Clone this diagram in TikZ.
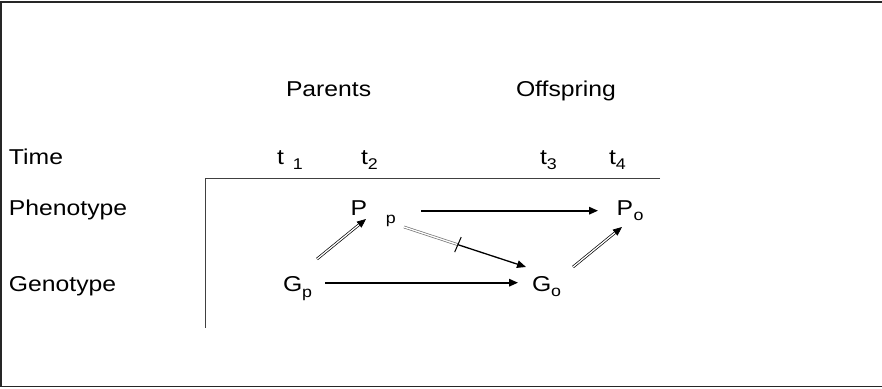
\documentclass[tikz,border=0pt]{standalone}
\usepackage{fontspec}
\setmainfont{Liberation Sans}
\usetikzlibrary{arrows.meta,calc}
% text is set slightly widened, as in the original slide
\newcommand{\wide}[1]{\scalebox{1.15}[1]{#1}}
\newcommand{\bigtxt}{\fontsize{21.5}{25}\selectfont}
\newcommand{\smalltxt}{\fontsize{15.5}{18}\selectfont}
% symbol with a lowered index: #1 symbol, #2 gap, #3 drop, #4 index
\newcommand{\subl}[4]{\wide{\bigtxt #1}\hspace{#2}\raisebox{-#3}{\wide{\smalltxt #4}}}
\begin{document}
\begin{tikzpicture}[x=1pt,y=-1pt,
  txt/.style={inner sep=0pt, outer sep=0pt, anchor=base west, font=\bigtxt},
  tip/.style={-{Triangle[length=9pt,width=7.5pt]}},
  solidarr/.style={tip, line width=1.7pt},
  dblarr/.style={tip, double, double distance=1.3pt, line width=0.7pt},
  dblgray/.style={double, double distance=1.3pt, line width=0.7pt, draw=black!55},
  axisline/.style={line width=0.9pt, black!75}]

\useasboundingbox (0,0) rectangle (882,388);
% outer frame (open on the right)
\draw[line width=1.3pt, black!85] (882,2) -- (1,2) -- (1,386.5) -- (882,386.5);

% row and column labels
\node[txt] (time) at (9,164) {\wide{Time}};
\node[txt] (pheno) at (9,215) {\wide{Phenotype}};
\node[txt] (geno) at (9,291) {\wide{Genotype}};
\node[txt] (parents) at (286,96) {\wide{Parents}};
\node[txt] (offspring) at (516,96) {\wide{Offspring}};

% time points
\node[txt] (t1) at (277,164) {\subl{t}{9pt}{5.5pt}{1}};
\node[txt] (t2) at (361,164) {\subl{t}{0pt}{5.5pt}{2}};
\node[txt] (t3) at (540,164) {\subl{t}{0pt}{5.5pt}{3}};
\node[txt] (t4) at (609,164) {\subl{t}{0pt}{5.5pt}{4}};

% axes
\coordinate (corner) at (205,178);
\draw[axisline] (660,178) -- (corner) -- (205,328);

% variables
\node[txt] (Pp) at (350.5,215) {\subl{P}{19pt}{8pt}{p}};
\node[txt] (Po) at (616.5,215) {\subl{P}{0.5pt}{5pt}{o}};
\node[txt] (Gp) at (283,291.5) {\subl{G}{0pt}{6pt}{p}};
\node[txt] (Go) at (532,291.5) {\subl{G}{0pt}{5pt}{o}};

% connectors
\draw[solidarr] ([shift={(42,-8.8)}]Gp.base west) -- ([shift={(-14,-8.8)}]Go.base west);
\draw[solidarr] ([shift={(70.5,-4.3)}]Pp.base west) -- ([shift={(-18.5,-4.3)}]Po.base west);
\draw[dblarr] ([shift={(34,-32.5)}]Gp.base west) -- ([shift={(15.5,4)}]Pp.base west);
\draw[dblarr] ([shift={(41,-24.5)}]Go.base west) -- ([shift={(5.5,12)}]Po.base west);

% blocked path from parental phenotype to offspring genotype
\coordinate (ps) at ([shift={(53.5,12)}]Pp.base west);
\coordinate (ge) at ([shift={(-6,-24.5)}]Go.base west);
\coordinate (tk) at ($(ps)!0.44!(ge)$);
\draw[dblgray] (ps) -- (tk);
\draw[tip, line width=1.3pt] (tk) -- (ge);
\draw[line width=1pt] ($(tk)+(-3,7.5)$) -- ($(tk)+(3.5,-7.5)$);
\end{tikzpicture}
\end{document}
